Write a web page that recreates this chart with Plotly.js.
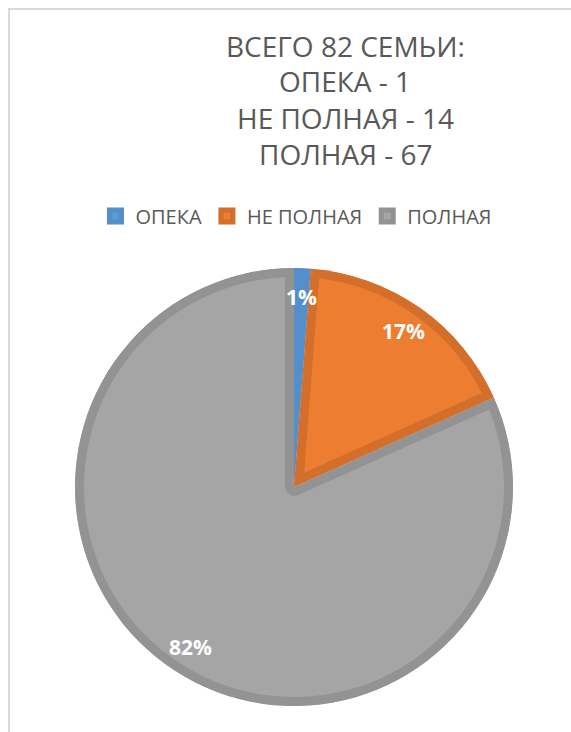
<!DOCTYPE html>
<html>
<head>
<meta charset="utf-8">
<script src="https://cdn.plot.ly/plotly-3.0.1.min.js"></script>
<style>
  html, body { margin: 0; padding: 0; background: #ffffff; }
  #chart { width: 571px; height: 732px; }
</style>
</head>
<body>
<div id="chart"></div>
<script>
// ---- data ----
const categories = ["ОПЕКА", "НЕ ПОЛНАЯ", "ПОЛНАЯ"];
const values = [1, 14, 67];
const titlePrefix = "ВСЕГО";
const titleUnit = "СЕМЬИ:";

// ---- styles ----
const fillColors = ["#5b9bd5", "#ed7d31", "#a5a5a5"];
const lineColors = ["#5390cb", "#d36f2a", "#939393"];
const W = 571, H = 732;
const CX = 294, CY = 487;      // pie centre (px)
const R_OUT = 219;             // outer radius (px)
const LW = 18;                 // stroke width (clipped to inside -> 9px)
const FONT = "Open Sans, Noto Sans, sans-serif";
const TXT = "#595959";

const total = values.reduce((a, b) => a + b, 0);

// title lines
const titleLines = [titlePrefix + " " + total + " " + titleUnit]
  .concat(categories.map((c, i) => c + " - " + values[i]));
const titleY = [46, 81, 118, 154];

const annotations = titleLines.map((t, i) => ({
  text: t, xref: "paper", yref: "paper",
  x: 345 / W, y: 1 - titleY[i] / H,
  xanchor: "center", yanchor: "middle", showarrow: false,
  font: { family: FONT, size: 28, color: TXT }
}));

// data labels placed along each slice bisector
let cum = 0;
values.forEach((v, i) => {
  const mid = (cum + v / 2) / total * 2 * Math.PI;
  cum += v;
  const rr = 0.87 * R_OUT;
  const px = CX + rr * Math.sin(mid);
  const py = CY - rr * Math.cos(mid);
  annotations.push({
    text: "<b>" + Math.round(v / total * 100) + "%</b>",
    xref: "paper", yref: "paper",
    x: px / W, y: 1 - py / H,
    xanchor: "center", yanchor: "middle", showarrow: false,
    font: { family: FONT, size: 21, color: "#ffffff" }
  });
});

const trace = {
  type: "pie",
  labels: categories,
  values: values,
  sort: false,
  direction: "clockwise",
  rotation: 0,
  textinfo: "none",
  hoverinfo: "label+value+percent",
  marker: { colors: fillColors, line: { color: lineColors, width: LW } },
  domain: {
    x: [(CX - R_OUT) / W, (CX + R_OUT) / W],
    y: [1 - (CY + R_OUT) / H, 1 - (CY - R_OUT) / H]
  }
};

const layout = {
  width: W, height: H,
  margin: { l: 0, r: 0, t: 0, b: 0 },
  paper_bgcolor: "#ffffff",
  showlegend: true,
  legend: {
    orientation: "h",
    x: 296 / W, xanchor: "center",
    y: 1 - 216 / H, yanchor: "middle",
    font: { family: FONT, size: 20, color: TXT },
    itemwidth: 30,
    traceorder: "normal"
  },
  annotations: annotations,
  shapes: [
    { type: "line", xref: "paper", yref: "paper",
      x0: 9 / W, x1: 9 / W, y0: 0, y1: 1 - 8 / H,
      line: { color: "#d9d9d9", width: 2 } },
    { type: "line", xref: "paper", yref: "paper",
      x0: 9 / W, x1: 1, y0: 1 - 9 / H, y1: 1 - 9 / H,
      line: { color: "#d9d9d9", width: 2 } }
  ]
};

Plotly.newPlot("chart", [trace], layout, { displayModeBar: false, staticPlot: true })
  .then(function (gd) {
    // clip each slice's border to its own shape so borders sit inside (Excel style)
    const ns = "http://www.w3.org/2000/svg";
    const svg = gd.querySelector("svg.main-svg");
    let defs = svg.querySelector("defs");
    if (!defs) { defs = document.createElementNS(ns, "defs"); svg.insertBefore(defs, svg.firstChild); }
    gd.querySelectorAll("g.slice path.surface").forEach(function (p, i) {
      const cp = document.createElementNS(ns, "clipPath");
      cp.setAttribute("id", "sliceclip" + i);
      const cpath = document.createElementNS(ns, "path");
      cpath.setAttribute("d", p.getAttribute("d"));
      cp.appendChild(cpath);
      defs.appendChild(cp);
      p.setAttribute("clip-path", "url(#sliceclip" + i + ")");
    });
  });
</script>
</body>
</html>
